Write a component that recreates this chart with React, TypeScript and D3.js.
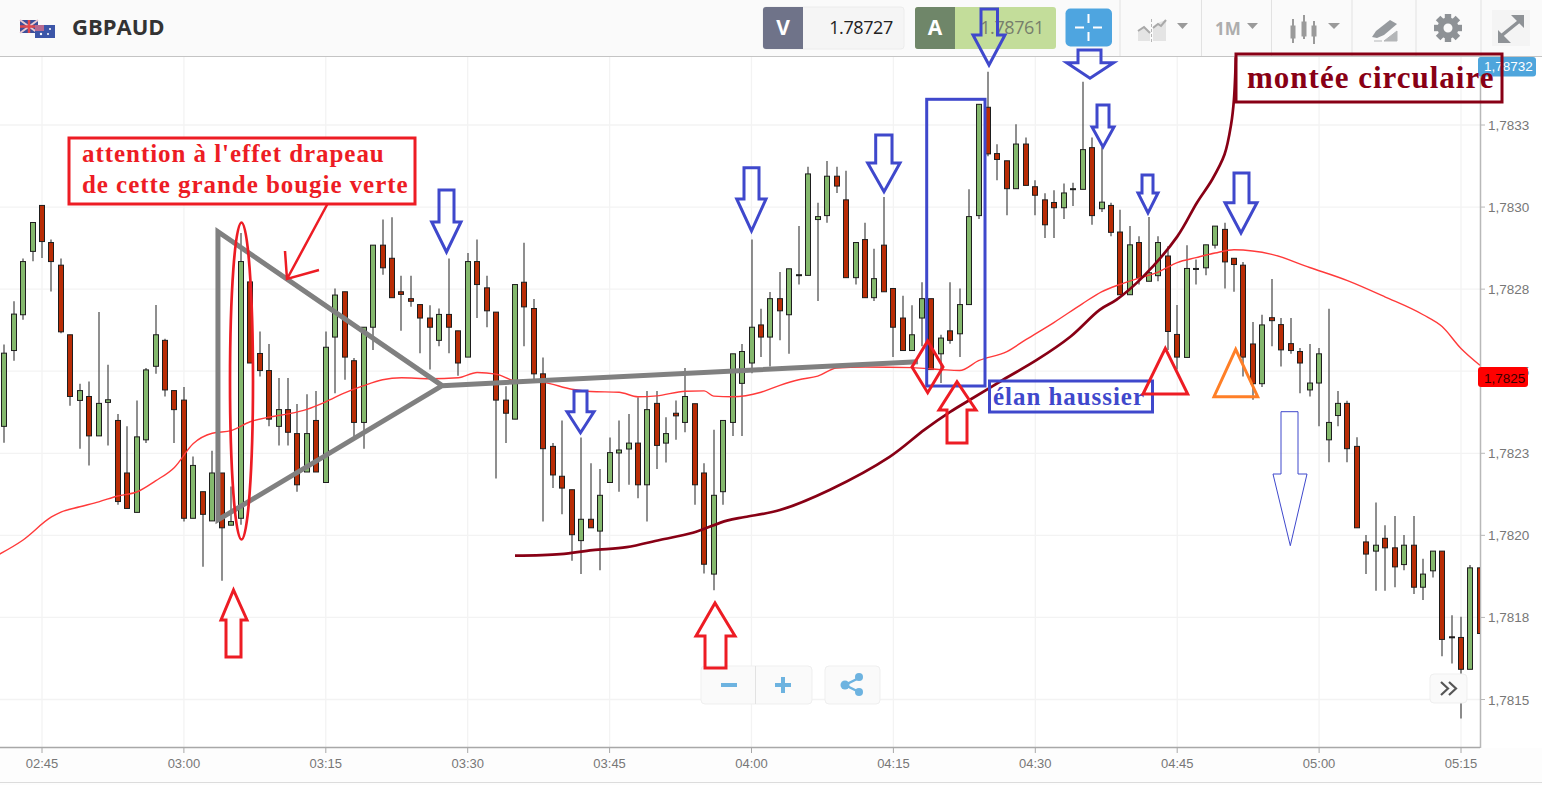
import React from "react";
import * as d3 from "d3";

// Prices are stored in points above 1.78000 (1 point = 0.00001). First candle = 02:41.
const firstMinute = -4; // minutes after 02:45
const opens = [
  233.2,256.3,267.2,286.5,300.5,289.2,282.3,261.1,241.1,242.3,
  230.3,240.5,235,219,207,229.1,251.5,259.4,244.1,241.2,
  205.2,213.3,204.4,219,203.1,205.2,277.2,255.4,250.2,233.2,
  238.3,231,219.3,235,216.1,260.4,274.2,253.2,234.4,263.4,
  288.4,284.4,274.2,272.1,270.3,266.2,259.4,267.3,262.3,254.3,
  283.4,275.4,268,241.2,235.4,277.1,269.1,249.2,227.1,218,
  213.9,198.4,204.9,201.3,216.1,225.1,226.3,228.1,215.4,240.2,
  228.1,237.2,234.4,240.1,219,188.2,213.3,234.4,246.3,252.5,
  264.1,260.4,272.1,267.2,279.1,279.2,296.2,297.4,309.4,302.2,
  278.5,290.1,272.4,288.4,275.2,266.2,256.3,266.2,272.1,255.3,
  262.3,261.4,270.3,297.4,330.4,316.3,314.1,305.6,319.2,306.2,
  302.2,301.4,299.8,305.3,305.4,318.1,299.5,300.5,292.4,273.3,
  289.2,277.4,279.1,285.1,261.2,254.2,281,281.5,288.4,293.2,
  284.4,282.3,258.3,246.2,266.3,264.2,258.4,256,244.3,246.4,
  229.1,236.5,240.2,227.1,198,195.2,199.1,196.2,191.1,197,
  184.2,189.2,195.2,169.1,168.9,159.2,190.1,
];
const highs = [
  258.1,271.3,284.3,295.3,300.5,290.1,284.3,261.1,246.2,246.9,
  268,252,237,233.2,241.1,251,270.2,259.9,244.1,245.2,
  224,213.3,225.8,219,214.9,292.1,277.2,262.1,258.3,247.9,
  247.9,240,243,244,262.1,275.2,274.2,254,263.4,288.4,
  296.2,296.9,279.1,279.1,270.3,270.1,269.1,284.3,262.3,286,
  290.1,279.1,268,245.4,276.4,289.1,272,254.2,228.1,235,
  213.9,229.8,222,220.2,229.8,235,237,242.1,244,244,
  236,241.1,251,240.1,222,232.2,235,255.3,258.3,290.1,
  269,274.1,280.2,281.2,294.2,312.3,301.3,314,312.3,311.1,
  289.2,295.2,287.3,303.1,275.2,273,270.1,277.1,272.1,261.1,
  277.1,275.2,305.4,331.3,341.2,319.1,314.1,325.2,321.2,308.2,
  304.2,305.1,307.2,307.4,338.2,321.2,318.2,301.3,299.2,294.2,
  291.1,297,291.1,288.1,270.2,288.4,284,288.5,294.2,295.2,
  284.4,283.3,265,267.2,278.1,266.2,266.2,257.1,258.3,257.1,
  269,244,241,229.9,200.1,210,203.1,205.9,200.1,205.9,
  192.9,195.2,195.2,175.7,175.2,191,190.1,
];
const lows = [
  228.2,253.2,265.7,283.5,284.5,274.3,261.6,239.5,226.4,221.3,
  230.3,227.4,209.3,208.2,207,228.1,249.2,242.3,228.1,204.2,
  205.2,190.4,204.4,186.2,203.1,203.2,252.5,248.4,233.2,227.4,
  227.4,213.3,219.3,219.3,216.1,243.3,247.4,229.6,226.4,256.5,
  279.4,272.4,262.3,269.6,255.5,250.5,257.6,255.5,248.6,254.3,
  266.2,263.4,217.3,228.1,235.4,257.6,247.4,204.2,214.4,206.4,
  192.3,188.2,202.3,189.4,216.1,213.3,215.4,211.3,204.2,220.2,
  222.2,229.1,231.4,209.3,188.4,183.3,209.3,230.3,230.3,249.4,
  254.3,251.4,259.4,255.3,276.4,279.2,271.4,295.2,304.3,278.5,
  276.4,272.4,271.4,274.2,254.3,256.3,256.3,257.6,250.5,246.4,
  258.4,254.3,270.3,296.4,315.5,308.2,297.5,305.6,306.6,297.5,
  290.6,290.6,296.4,300.3,305.4,294.6,298.5,291.1,273.3,273.3,
  276.4,277.4,277.4,256.5,250.5,254.2,276.4,279.2,287.4,275.2,
  274.2,248.4,241.3,245.2,257.6,251.4,255.3,243.3,242.3,233.2,
  222.3,233.2,222.3,202.3,188.2,183.1,183.1,184.2,189.4,182.1,
  180.3,187.2,163.2,161,144.2,159.2,170.1,
];
const closes = [
  255.5,267.4,283.4,295.3,289.5,283.4,262,242.3,244.1,230.3,
  240.2,241.3,210.3,208.2,230,250.4,261.1,244.3,238.3,205.2,
  221.3,206.4,219,202.3,204.2,283.4,252.5,250.2,235.4,238.3,
  231.4,215.4,231,219.3,257.3,273.2,254.3,234.4,263.4,288.4,
  281.5,272.4,273.4,271.3,266.2,263.4,267.3,263.4,252.5,283.4,
  276.4,268.4,241.2,237.2,276.4,269.6,249.2,226.4,218.4,214.4,
  200.2,204.9,202.3,212.2,225.2,226,228.1,215.4,238.3,227.4,
  231,236.4,242.3,215.4,191.2,212.2,235,255.3,256,263.4,
  260.4,272.1,268.4,281.2,279.4,310.1,297.1,309.4,306.4,278.5,
  289.2,272.4,278.2,274.2,263.4,256.3,261.1,272.1,250.5,260.1,
  259.4,270.3,297.1,331.3,316.2,314.5,305.6,319.2,306.6,303.6,
  294.6,299.8,304.3,305.6,317.5,297.4,301.5,292.3,273.3,288.5,
  278.4,280,289.2,262.1,254.3,281.3,281.3,288.5,294.2,283.3,
  282.5,254.3,246.2,264.1,265.4,256.5,256.3,252.5,246.4,255.3,
  234.4,240.2,226.4,202.3,194.3,197,196.2,190.4,197,184.2,
  188.2,195.2,168.3,168.9,159.2,190.1,170.1,
];

// Moving average: minute / level
const maMinutes = [-5,-2,1,2,4,6,8,10,12,14,16,18,20,22,24,26,28,30,32,34,36,38,41,44,46,48,50,53,56,58,61,63,65,68,70,71,73,76,78,80,82,84,87,92,95,97,99,102,104,107,110,112,114,116,118,120,122,124,126,130,134,138,142,146,148,150,152];
const maValues = [193.5,198.6,205.6,207.1,208.7,210.2,212,213.2,216.6,220.7,228,231.1,231.9,234.6,236,237,238.4,240.7,243.4,245.6,247.4,248,247.7,248,249.6,249.1,247.1,246.6,244.5,243.8,243.6,242.2,242.5,243.9,244,242.4,242.2,243.6,245.7,247.4,248.5,251,251.3,251.1,250.5,250.2,253.2,256,259.6,264.9,270.6,274.2,276.5,278.4,280.2,283.1,284.6,286,287,285.6,281.6,277.6,272.6,267.2,263.6,256.9,251.8];

// Hand-drawn "montée circulaire" curve: minute / level
const curveMinutes = [50,54.8,58.2,61.8,65.3,68.8,72.4,74.3,78,83.3,89.6,93.3,96,98.1,101.6,105.2,108.7,111.8,113.6,116.4,120,122.1,123.7,125,125.7,126,126.2];
const curveValues = [193.8,194.3,195.5,196.4,198.6,200.8,204.5,205.6,207.7,213.9,223.9,232.2,237.6,241.3,247.4,253.5,260.5,268.7,271.8,278.8,291,301.4,308.4,316,325.2,332.8,345.6];

// Grey triangle and its trend line: minute / level
const greyMinutes = [42.3,18.6,18.6,42.3,92.6];
const greyValues = [245.6,292.5,204.7,245.6,252.9];

const yTickValues = [150,175,200,225,250,275,300,325];
const yTickLabels = ["1,7815","1,7818","1,7820","1,7823","1,7825","1,7828","1,7830","1,7833"];
const xTickMinutes = [0,15,30,45,60,75,90,105,120,135,150];
const xTickLabels = ["02:45","03:00","03:15","03:30","03:45","04:00","04:15","04:30","04:45","05:00","05:15"];

// [shaftL, top, shaftR, neck, headL, headR, cx, tip]
const blueDownArrows = [
  [439,190,454,222,431.7,461,446.5,252],
  [574,391,587,411.7,567,594,580.5,432.7],
  [744,167.7,759,199,736.7,766,751.5,231],
  [875.7,135,892,163,867.7,900,884,191.7],
  [981,9,997.5,35,973,1005,989,65],
  [1078,50,1101,62.7,1066.7,1113.6,1090,78.3],
  [1097,105,1109,127,1092,1114,1103,147],
  [1142,175,1153,193,1138,1158,1148,213],
  [1234,173,1249,202.7,1225,1257,1241,233],
];
const redUpArrows = [
  [226,657,241,620,221,247,233.5,590],
  [705,668,726,636,696,735,715,603],
  [947,443,967,410,939,976,957,381.7],
];

const W = 1542, H = 785;
const PLOT_R = 1480, AXIS_B = 748;
const BLUE = "#3f48cc", RED = "#ed1c24", BROWN = "#880015", GREY = "#808080";
const SANS = "'Liberation Sans', Arial, sans-serif";
const SERIF = "'Liberation Serif', 'Times New Roman', serif";

const x = d3.scaleLinear().domain([0, 150]).range([42, 1461]);
const y = d3.scaleLinear().domain([150, 325]).range([699.5, 125]);

const arrowPath = ([sl, top, sr, neck, hl, hr, cx, tip]: number[]) =>
  `M${sl},${top}H${sr}V${neck}H${hr}L${cx},${tip}L${hl},${neck}H${sl}Z`;

const HeaderBar = () => (
  <g>
    <rect x={0} y={0} width={W} height={56} fill="#fafafa" />
    <line x1={0} x2={W} y1={56.5} y2={56.5} stroke="#c4c4c4" />
    {/* flags */}
    <rect x={20} y={20} width={18} height={13} fill="#3c4f9a" />
    <path d="M20,20L38,33M38,20L20,33" stroke="#e8c8d0" strokeWidth={2} />
    <path d="M29,20V33M20,26.5H38" stroke="#e0484c" strokeWidth={2.5} />
    <rect x={35} y={25} width={20} height={13} fill="#3c56a8" />
    <rect x={35} y={25} width={9} height={6} fill="#b86a90" />
    <circle cx={50} cy={29} r={1} fill="#fff" /><circle cx={48} cy={34} r={1} fill="#fff" /><circle cx={41} cy={34} r={1.2} fill="#fff" />
    <text x={72} y={35} fontFamily="'Open Sans', sans-serif" fontWeight={700} fontSize={22} fill="#333">GBPAUD</text>

    {/* sell / buy */}
    <rect x={763} y={7} width={141} height={42} rx={3} fill="#f5f5f5" stroke="#ececec" />
    <path d="M766,7H803V49H766a3,3 0 0 1 -3,-3V10a3,3 0 0 1 3,-3Z" fill="#6f7389" />
    <text x={783} y={35} textAnchor="middle" fontFamily="'Open Sans', sans-serif" fontWeight={700} fontSize={21} fill="#fff">V</text>
    <text x={861} y={34} textAnchor="middle" fontFamily="'Open Sans', sans-serif" fontSize={18} letterSpacing={-0.4} fill="#222">1.78727</text>
    <rect x={915} y={7} width={141} height={42} rx={3} fill="#c3dd9a" />
    <path d="M918,7H955V49H918a3,3 0 0 1 -3,-3V10a3,3 0 0 1 3,-3Z" fill="#6f8669" />
    <text x={935} y={35} textAnchor="middle" fontFamily="'Open Sans', sans-serif" fontWeight={700} fontSize={21} fill="#fff">A</text>
    <text x={1012} y={34} textAnchor="middle" fontFamily="'Open Sans', sans-serif" fontSize={18} letterSpacing={-0.4} fill="#777f6c">1.78761</text>

    {/* crosshair button */}
    <rect x={1065.5} y={8.5} width={46.5} height={38} rx={5} fill="#4ea5e0" />
    <path d="M1088.5,14V23M1088.5,32V41M1075,27.5H1084M1093,27.5H1102" stroke="#fff" strokeWidth={2} />

    {/* separators */}
    {[1120, 1201.5, 1271.5, 1352, 1416, 1481].map((v) => (
      <line key={v} x1={v} x2={v} y1={0} y2={56} stroke="#e2e2e2" />
    ))}
    {/* chart type icon */}
    <path d="M1138,41V31L1144,27L1150,33V41ZM1153,41V26L1160,22L1166,20V41Z" fill="#e4e4e4" />
    <path d="M1138,31L1144,27L1150,33M1153,28L1158,24L1161,26L1166,20" fill="none" stroke="#a9a9a9" strokeWidth={2} />
    <line x1={1151.5} x2={1151.5} y1={19} y2={42} stroke="#b5b5b5" strokeDasharray="3 2" />
    <path d="M1177,23H1188L1182.5,29Z" fill="#9a9a9a" />
    <text x={1215} y={35} fontFamily="'Open Sans', sans-serif" fontWeight={700} fontSize={17} fill="#adadad">1M</text>
    <path d="M1247,23H1258L1252.5,29Z" fill="#9a9a9a" />
    {/* candle icon */}
    <g fill="#9a9a9a" stroke="#9a9a9a">
      <rect x={1291} y={26} width={4} height={12} strokeWidth={1} /><line x1={1293} x2={1293} y1={19} y2={43} strokeWidth={2} />
      <rect x={1302} y={22} width={4} height={14} strokeWidth={1} /><line x1={1304} x2={1304} y1={15} y2={39} strokeWidth={2} />
      <rect x={1312} y={26} width={4} height={10} strokeWidth={1} /><line x1={1314} x2={1314} y1={21} y2={44} strokeWidth={2} />
    </g>
    <path d="M1328,23H1340L1334,29Z" fill="#9a9a9a" />
    {/* pen icon */}
    <path d="M1372,37L1376,31L1390,20L1397,24L1384,35L1377,38Z" fill="#969a9e" />
    <path d="M1384,41L1397,31V41ZM1374,41H1382" fill="#b4b6b8" stroke="#b4b6b8" />
    {/* gear */}
    <g transform="translate(1448,28)" fill="#8e9296">
      {d3.range(8).map((k) => (
        <rect key={k} x={-3.2} y={-14} width={6.4} height={6} transform={`rotate(${k * 45})`} />
      ))}
      <circle r={7.5} fill="none" stroke="#8e9296" strokeWidth={6} />
    </g>
    {/* expand */}
    <rect x={1492} y={10} width={38} height={36} fill="#f4f4f4" />
    <path d="M1501,36L1522,19" fill="none" stroke="#8e9296" strokeWidth={3.5} />
    <path d="M1498,43V30L1511,43ZM1524,15V28L1511,15Z" fill="#8e9296" />
  </g>
);

const YAxis = () => (
  <g fontFamily={SANS} fontSize={13.5} fill="#777">
    <line x1={PLOT_R + 0.5} x2={PLOT_R + 0.5} y1={57} y2={AXIS_B} stroke="#b8b8b8" strokeWidth={1.5} />
    {yTickValues.map((v, k) => (
      <g key={v}>
        <line x1={PLOT_R} x2={PLOT_R + 5} y1={y(v)} y2={y(v)} stroke="#b8b8b8" />
        <text x={1488} y={y(v) + 5}>{yTickLabels[k]}</text>
      </g>
    ))}
  </g>
);

const XAxis = () => (
  <g fontFamily={SANS} fontSize={13} fill="#777">
    <rect x={0} y={AXIS_B} width={W} height={H - AXIS_B} fill="#fdfdfd" />
    <line x1={0} x2={PLOT_R} y1={AXIS_B - 0.5} y2={AXIS_B - 0.5} stroke="#a8a8a8" strokeWidth={1.5} />
    <line x1={0} x2={W} y1={782.5} y2={782.5} stroke="#dcdcdc" />
    {xTickMinutes.map((m, k) => (
      <g key={m}>
        <line x1={x(m)} x2={x(m)} y1={AXIS_B} y2={AXIS_B + 5} stroke="#a8a8a8" />
        <text x={x(m)} y={768} textAnchor="middle">{xTickLabels[k]}</text>
      </g>
    ))}
  </g>
);

const Candles = () => (
  <g clipPath="url(#plotClip)">
    {opens.map((o, k) => {
      const m = firstMinute + k;
      const cx = Math.round(x(m));
      const up = closes[k] >= o;
      const top = y(Math.max(o, closes[k]));
      const bot = y(Math.min(o, closes[k]));
      return (
        <g key={m}>
          <line x1={cx} x2={cx} y1={y(highs[k])} y2={y(lows[k])} stroke="#333" strokeWidth={1.1} />
          <rect x={cx - 2.5} y={top} width={5} height={Math.max(bot - top, 1)} fill={up ? "#84b86d" : "#b92c05"} stroke="#1e1e1e" strokeWidth={1} />
        </g>
      );
    })}
  </g>
);

const ma = d3.line<number>().x((m) => x(m)).y((_, k) => y(maValues[k])).curve(d3.curveMonotoneX);
const brown = d3.line<number>().x((m) => x(m)).y((_, k) => y(curveValues[k])).curve(d3.curveCatmullRom);
const grey = d3.line<number>().x((m) => x(m)).y((_, k) => y(greyValues[k]));

const Annotations = () => (
  <g fill="none" strokeLinejoin="miter">
    <path d={grey(greyMinutes) as string} stroke={GREY} strokeWidth={5} />
    <path d={brown(curveMinutes) as string} stroke={BROWN} strokeWidth={2.7} />

    {/* blue marks */}
    {blueDownArrows.map((a, k) => (
      <path key={k} d={arrowPath(a)} stroke={BLUE} strokeWidth={3} />
    ))}
    <path d="M1281,411.7H1298V474H1307L1290.3,545.7L1273,474H1281Z" stroke={BLUE} strokeWidth={1} />
    <rect x={926.7} y={99.3} width={58.3} height={286.7} stroke={BLUE} strokeWidth={3} />
    <rect x={989.5} y={381} width={163} height={31} stroke={BLUE} strokeWidth={3} />
    <text x={993} y={405} fontFamily={SERIF} fontWeight={700} fontSize={25} letterSpacing={0.95} fill={BLUE} stroke="none">élan haussier</text>

    {/* red marks */}
    {redUpArrows.map((a, k) => (
      <path key={k} d={arrowPath(a)} stroke={RED} strokeWidth={3} />
    ))}
    <ellipse cx={241.5} cy={381} rx={11.5} ry={158.5} stroke={RED} strokeWidth={2.7} />
    <path d="M927.7,341L943,367L927.7,392.7L912,367Z" stroke={RED} strokeWidth={3} />
    <path d="M1165.3,348.3L1187.7,394H1143Z" stroke={RED} strokeWidth={3} />
    <path d="M1235.7,349.3L1257.7,396.7H1214Z" stroke="#ff7f27" strokeWidth={3} />
    <path d="M328,203L287,279M285,251L287,279L319,270" stroke={RED} strokeWidth={2.5} />
    <rect x={69} y={138} width={346} height={66} fill="#fff" stroke={RED} strokeWidth={3} />
    <g fontFamily={SERIF} fontWeight={700} fontSize={25} letterSpacing={0.95} fill={RED} stroke="none">
      <text x={82} y={162}>attention à l'effet drapeau</text>
      <text x={82} y={193}>de cette grande bougie verte</text>
    </g>
  </g>
);

const Widgets = () => (
  <g>
    <rect x={701} y={666} width={111} height={38} rx={4} fill="#fafafa" stroke="#efefef" />
    <line x1={755.5} x2={755.5} y1={666} y2={704} stroke="#e2e2e2" />
    <path d="M721,685H737M775,685H791M783,677V693" stroke="#6db3e0" strokeWidth={4} fill="none" />
    <rect x={825} y={666} width={55} height={38} rx={4} fill="#fafafa" stroke="#efefef" />
    <path d="M859,678L845,685L859,692" stroke="#6db3e0" strokeWidth={2.5} fill="none" />
    <g fill="#6db3e0"><circle cx={859} cy={677} r={4} /><circle cx={845} cy={685} r={4.5} /><circle cx={859} cy={692} r={4} /></g>

    <rect x={1430} y={674} width={37} height={29} rx={4} fill="#fafafa" stroke="#efefef" />
    <path d="M1441,682L1448,688.5L1441,695M1449,682L1456,688.5L1449,695" stroke="#555" strokeWidth={2.2} fill="none" />
  </g>
);

export default function App() {
  return (
    <svg width={W} height={H} viewBox={`0 0 ${W} ${H}`} style={{ position: "absolute", left: 0, top: 0, display: "block", background: "#fff" }}>
      <defs>
        <clipPath id="plotClip"><rect x={0} y={57} width={PLOT_R} height={AXIS_B - 57} /></clipPath>
      </defs>
      {/* grid */}
      <g stroke="#f3f3f3" strokeWidth={1.3}>
        {yTickValues.map((v) => <line key={v} x1={0} x2={PLOT_R} y1={y(v)} y2={y(v)} />)}
        {xTickMinutes.map((m) => <line key={m} x1={x(m)} x2={x(m)} y1={57} y2={AXIS_B} />)}
      </g>
      <YAxis />
      <XAxis />
      <Candles />
      <g clipPath="url(#plotClip)">
        <path d={ma(maMinutes) as string} fill="none" stroke="#ff3a3a" strokeWidth={1.4} />
      </g>
      <HeaderBar />
      {/* price labels */}
      <rect x={1478} y={57} width={58} height={19.5} rx={3} fill="#4ea5dc" />
      <text x={1484} y={71} fontFamily={SANS} fontSize={13.5} fill="#fff">1,78732</text>
      <rect x={1478} y={367} width={50} height={20} rx={3} fill="#ff0000" />
      <text x={1484} y={382.5} fontFamily={SANS} fontSize={13.5} fill="#3a0000">1,7825</text>
      <Widgets />
      <Annotations />
      <rect x={1236} y={54} width={266} height={48} fill="none" stroke={BROWN} strokeWidth={3} />
      <text x={1247} y={88} fontFamily={SERIF} fontWeight={700} fontSize={31} letterSpacing={1} fill={BROWN}>montée circulaire</text>
    </svg>
  );
}
